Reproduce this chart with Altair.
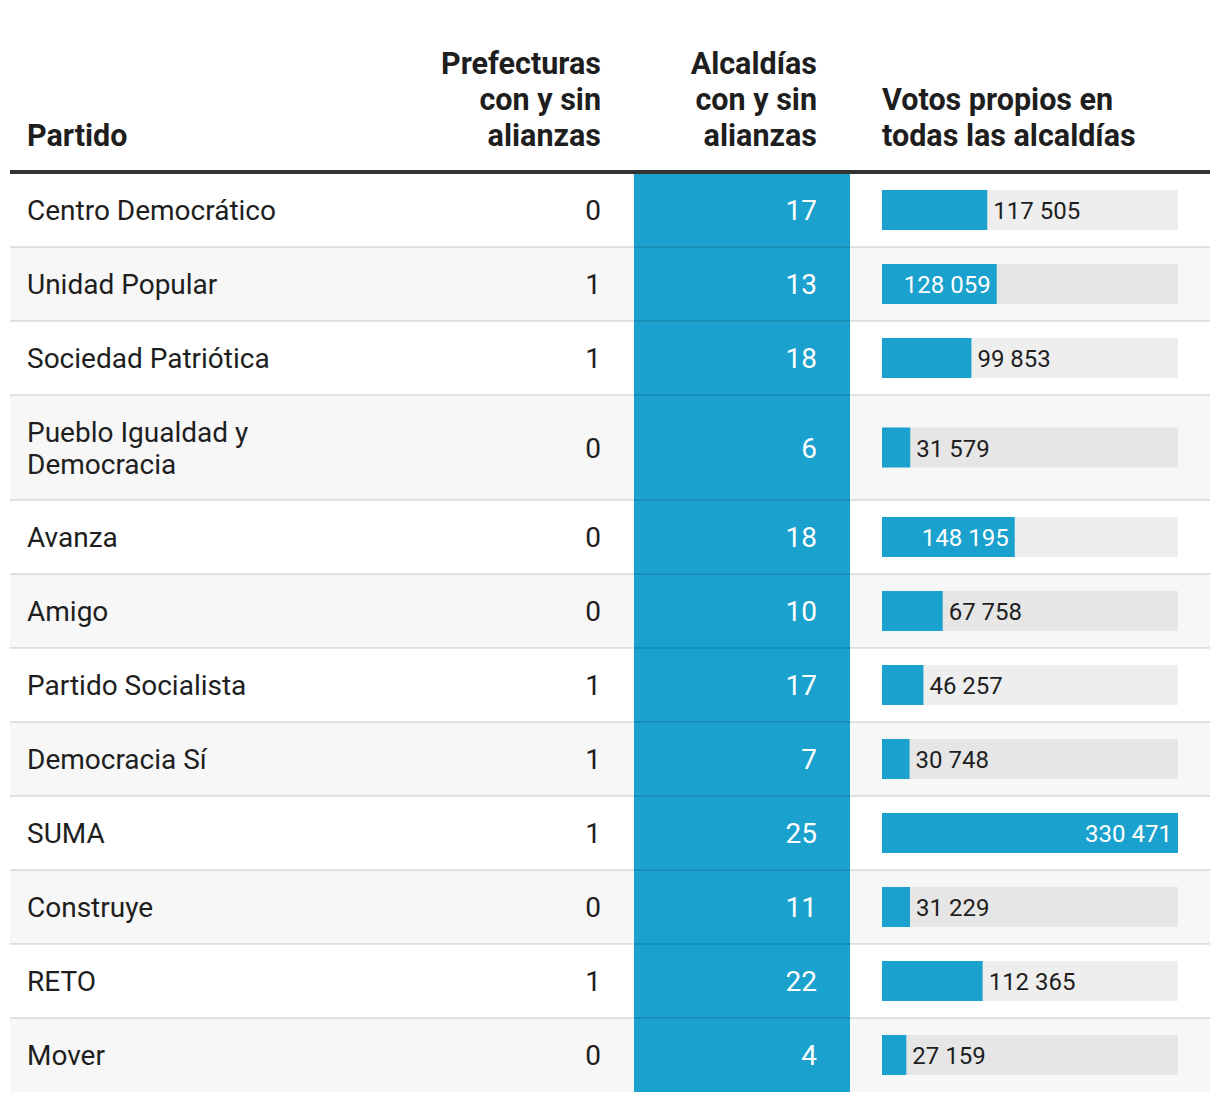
import altair as alt
import pandas as pd

# ---------------- data ----------------
partidos = [
    "Centro Democrático", "Unidad Popular", "Sociedad Patriótica",
    "Pueblo Igualdad y\nDemocracia", "Avanza", "Amigo", "Partido Socialista",
    "Democracia Sí", "SUMA", "Construye", "RETO", "Mover",
]
prefecturas = [0, 1, 1, 0, 0, 0, 1, 1, 1, 0, 1, 0]
alcaldias = [17, 13, 18, 6, 18, 10, 17, 7, 25, 11, 22, 4]
votos = [117505, 128059, 99853, 31579, 148195, 67758, 46257, 30748,
         330471, 31229, 112365, 27159]

hdr_partido = ["Partido"]
hdr_prefecturas = ["Prefecturas", "con y sin", "alianzas"]
hdr_alcaldias = ["Alcaldías", "con y sin", "alianzas"]
hdr_votos = ["Votos propios en", "todas las alcaldías"]

# ---------------- layout ----------------
W, H = 1204, 1086
BLUE = "#1aa1cd"
DARK = "#1e1e1e"
FONT = "Roboto"
HEADER_BOTTOM = 165
ROW_BASE = 74
LINE_H = 31
TXT_LINE_H = 32
BAR_HALF = 20
INSIDE_MIN = 120000
HDR_LAST_BASELINE = 138
HDR_LINE_H = 36

lines = [p.count("\n") + 1 for p in partidos]
heights = [ROW_BASE + LINE_H * (n - 1) for n in lines]
tops = []
acc = HEADER_BOTTOM
for h in heights:
    tops.append(acc)
    acc += h

df = pd.DataFrame({
    "idx": list(range(len(partidos))),
    "partido": partidos,
    "nlines": lines,
    "pref": prefecturas,
    "alc": alcaldias,
    "votos": votos,
    "lab": [f"{v:,}".replace(",", " ") for v in votos],
    "top": tops,
    "bottom": [t + h for t, h in zip(tops, heights)],
})
df["center"] = (df["top"] + df["bottom"]) / 2
df["name_y"] = df["center"] - (df["nlines"] - 1) * TXT_LINE_H / 2
df["b0"] = df["center"] - BAR_HALF
df["b1"] = df["center"] + BAR_HALF
df["fill"] = ["#ffffff" if i % 2 == 0 else "#f7f7f7" for i in df["idx"]]

yscale = alt.Scale(domain=[0, H], range=[0, H], nice=False, zero=False)
xscale = alt.Scale(domain=[0, max(votos)], range=[874, 1170], nice=False, zero=True)


def Y(f):
    return alt.Y(f, type="quantitative", scale=yscale, axis=None)


base = alt.Chart(df)

row_bg = base.mark_rect().encode(
    x=alt.value(2), x2=alt.value(1202),
    y=Y("top"), y2="bottom",
    color=alt.Color("fill:N", scale=None),
)

blue_col = base.mark_rect(color=BLUE).encode(
    x=alt.value(626), x2=alt.value(842),
    y=Y("top"), y2="bottom",
)

seps = base.transform_filter(alt.datum.idx > 0).mark_rule(
    color="black", opacity=0.1, strokeWidth=2
).encode(x=alt.value(2), x2=alt.value(1202), y=Y("top"))

header_rule = alt.Chart(pd.DataFrame({"y": [164]})).mark_rule(
    color="#333333", strokeWidth=4
).encode(x=alt.value(2), x2=alt.value(1202), y=Y("y"))

hdr_kw = dict(font=FONT, fontSize=30.5, fontWeight="bold", color=DARK,
              baseline="alphabetic", lineHeight=HDR_LINE_H)


def header(txt, x, align):
    y0 = HDR_LAST_BASELINE - (len(txt) - 1) * HDR_LINE_H
    return alt.Chart(pd.DataFrame({"k": [0]})).mark_text(
        text=txt, align=align, **hdr_kw
    ).encode(x=alt.value(x), y=alt.value(y0))


h1 = header(hdr_partido, 19, "left")
h2 = header(hdr_prefecturas, 593, "right")
h3 = header(hdr_alcaldias, 809, "right")
h4 = header(hdr_votos, 874, "left")

txt_kw = dict(font=FONT, fontSize=28, baseline="middle", dy=2)

names = base.mark_text(align="left", color=DARK, lineBreak="\n",
                       lineHeight=TXT_LINE_H, **txt_kw).encode(
    x=alt.value(19), y=Y("name_y"), text="partido:N")

pref = base.mark_text(align="right", color=DARK, **txt_kw).encode(
    x=alt.value(593), y=Y("center"), text="pref:Q")

alc = base.mark_text(align="right", color="white", **txt_kw).encode(
    x=alt.value(809), y=Y("center"), text="alc:Q")

bar_bg = base.mark_rect(color="black", opacity=0.065).encode(
    x=alt.value(874), x2=alt.value(1170), y=Y("b0"), y2="b1")

bars = base.mark_rect(color=BLUE).encode(
    x=alt.X("votos:Q", scale=xscale, axis=None), x2=alt.datum(0),
    y=Y("b0"), y2="b1")

lab_kw = dict(font=FONT, fontSize=24, baseline="middle", dy=2)

lab_in = base.transform_filter(alt.datum.votos >= INSIDE_MIN).mark_text(
    align="right", dx=-6, color="white", **lab_kw
).encode(x=alt.X("votos:Q", scale=xscale, axis=None), y=Y("center"), text="lab:N")

lab_out = base.transform_filter(alt.datum.votos < INSIDE_MIN).mark_text(
    align="left", dx=6, color=DARK, **lab_kw
).encode(x=alt.X("votos:Q", scale=xscale, axis=None), y=Y("center"), text="lab:N")

chart = alt.layer(
    row_bg, blue_col, seps, header_rule, h1, h2, h3, h4,
    names, pref, alc, bar_bg, bars, lab_in, lab_out,
).properties(
    width=W, height=H, padding=0,
    autosize=alt.AutoSizeParams(type="none"),
    background="white",
).configure_view(stroke=None)

chart.save("out.html", embed_options={"renderer": "svg", "actions": False})
